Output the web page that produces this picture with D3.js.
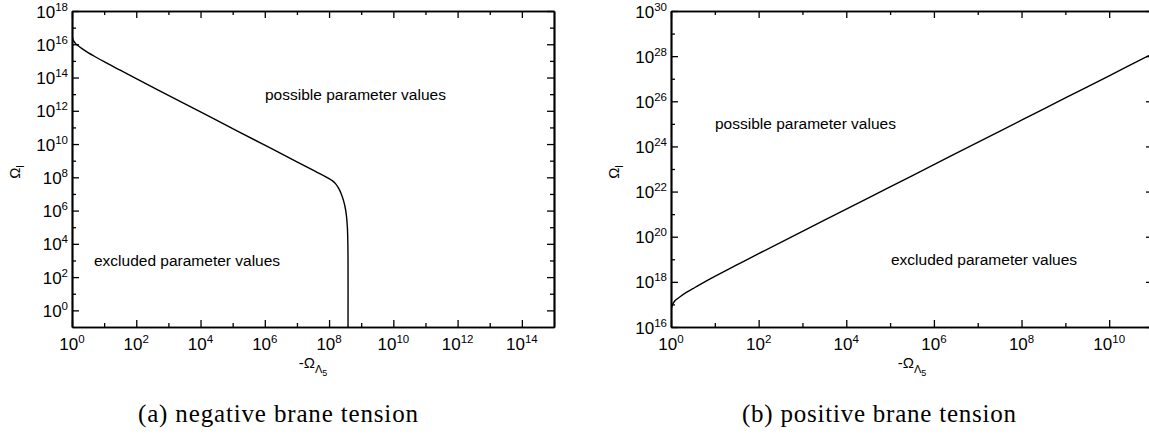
<!DOCTYPE html>
<html>
<head>
<meta charset="utf-8">
<script src="https://cdn.jsdelivr.net/npm/d3@7"></script>
<style>
  html, body { margin: 0; padding: 0; background: #fff; }
  svg { display: block; }
  text { font-family: "Liberation Sans", Arial, Helvetica, sans-serif; fill: #000; }
  .cap { font-family: "Liberation Serif", "Times New Roman", serif; }
</style>
</head>
<body>
<svg id="chart" width="1149" height="435"></svg>
<script>
// ---------- data (exponents of ten) ----------
// (a) negative brane tension: log10(-Omega_Lambda5) vs log10(Omega_l)
const negLogX = [0, 0.02, 0.05, 0.1, 0.16, 0.3, 0.5, 0.75, 1, 1.5, 2, 3, 4, 5, 6, 7, 7.5, 7.8, 8.0, 8.1, 8.2, 8.3, 8.38, 8.45, 8.5, 8.54, 8.57, 8.585, 8.59, 8.59];
const negLogY = [16.6, 16.35, 16.2, 16.07, 15.95, 15.75, 15.5, 15.22, 14.95, 14.44, 13.93, 12.93, 11.93, 10.93, 9.93, 8.93, 8.43, 8.13, 7.92, 7.8, 7.62, 7.33, 7.0, 6.6, 6.2, 5.7, 5.0, 4.0, 3.0, -1];
// (b) positive brane tension
const posLogX = [0, 0.01, 0.03, 0.06, 0.1, 0.2, 0.35, 0.5, 0.66, 1, 1.5, 2, 3, 4, 5, 6, 7, 8, 9, 10, 11];
const posLogY = [16.6, 16.82, 16.97, 17.08, 17.18, 17.33, 17.53, 17.7, 17.88, 18.24, 18.75, 19.25, 20.24, 21.22, 22.21, 23.19, 24.18, 25.16, 26.15, 27.13, 28.12];

// tick labels (exponents)
const xMajorA = [0, 2, 4, 6, 8, 10, 12, 14];
const xMinorA = [1, 3, 5, 7, 9, 11, 13];
const yMajorA = [0, 2, 4, 6, 8, 10, 12, 14, 16, 18];
const yMinorA = [1, 3, 5, 7, 9, 11, 13, 15, 17];
const xMajorB = [0, 2, 4, 6, 8, 10];
const xMinorB = [1, 3, 5, 7, 9, 11];
const yMajorB = [16, 18, 20, 22, 24, 26, 28, 30];
const yMinorB = [17, 19, 21, 23, 25, 27, 29];

const domainA = { x: [0, 15], y: [-1, 18] };
const domainB = { x: [0, 11], y: [16, 30] };

const annotations = ["possible parameter values", "excluded parameter values"];
const captions = ["(a) negative brane tension", "(b) positive brane tension"];

// ---------- drawing ----------
const svg = d3.select("#chart");

function panel(opts) {
  const { left, right, top, bottom, dom, xMaj, xMin, yMaj, yMin, lx, ly, id } = opts;
  const x = d3.scaleLog().domain(dom.x.map(e => 10 ** e)).range([left, right]);
  const y = d3.scaleLog().domain(dom.y.map(e => 10 ** e)).range([bottom, top]);
  const g = svg.append("g");

  const addAxis = (axisFn, scale, vals, size, transform) => {
    const a = g.append("g").attr("transform", transform)
      .call(axisFn(scale).tickValues(vals.map(e => 10 ** e)).tickSize(-size).tickSizeOuter(0).tickFormat(""));
    a.selectAll("line").attr("stroke", "#000").attr("stroke-width", 1.3);
    a.select(".domain").attr("stroke", "#000").attr("stroke-width", 1.7);
    return a;
  };
  addAxis(d3.axisBottom, x, xMin, 4, `translate(0,${bottom})`);
  addAxis(d3.axisBottom, x, xMaj, 7, `translate(0,${bottom})`);
  addAxis(d3.axisTop, x, xMin, 4, `translate(0,${top})`);
  addAxis(d3.axisTop, x, xMaj, 7, `translate(0,${top})`);
  addAxis(d3.axisLeft, y, yMin, 4, `translate(${left},0)`);
  addAxis(d3.axisLeft, y, yMaj, 7, `translate(${left},0)`);
  addAxis(d3.axisRight, y, yMin, 4, `translate(${right},0)`);
  addAxis(d3.axisRight, y, yMaj, 7, `translate(${right},0)`);

  // x tick labels
  const xl = g.append("g").selectAll("text").data(xMaj).join("text")
    .attr("x", d => x(10 ** d)).attr("y", bottom + 23)
    .attr("text-anchor", "middle").attr("font-size", 17);
  xl.append("tspan").text("10");
  xl.append("tspan").attr("font-size", 11.5).attr("dy", -7).text(d => d);

  // y tick labels
  const yl = g.append("g").selectAll("text").data(yMaj).join("text")
    .attr("x", left - 4).attr("y", d => y(10 ** d) + 6.5)
    .attr("text-anchor", "end").attr("font-size", 17);
  yl.append("tspan").text("10");
  yl.append("tspan").attr("font-size", 11.5).attr("dy", -7).text(d => d);

  // curve
  const clipId = "clip" + id;
  svg.append("clipPath").attr("id", clipId).append("rect")
    .attr("x", left).attr("y", top).attr("width", right - left).attr("height", bottom - top);
  const pts = lx.map((e, i) => [10 ** e, 10 ** ly[i]]);
  g.append("path").datum(pts)
    .attr("clip-path", `url(#${clipId})`)
    .attr("fill", "none").attr("stroke", "#000").attr("stroke-width", 1.4)
    .attr("stroke-linejoin", "round")
    .attr("d", d3.line().x(d => x(d[0])).y(d => y(d[1])).curve(d3.curveCatmullRom.alpha(0.5)));

  // y axis title  Ω_l
  const yt = g.append("text")
    .attr("transform", `translate(${opts.yTitleX},172) rotate(-90)`)
    .attr("text-anchor", "middle").attr("font-size", 15);
  yt.append("tspan").text("Ω");
  yt.append("tspan").attr("font-size", 11).attr("dy", 4).text("l");

  // x axis title  -Ω_{Λ_5}
  const xt = g.append("text")
    .attr("x", (left + right) / 2).attr("y", bottom + 41)
    .attr("text-anchor", "middle").attr("font-size", 15);
  xt.append("tspan").text("-Ω");
  xt.append("tspan").attr("font-size", 11).attr("dy", 5).text("Λ");
  xt.append("tspan").attr("font-size", 9).attr("dy", 3).text("5");

  return { g, x, y };
}

panel({ id: "A", left: 72, right: 554, top: 11, bottom: 327, dom: domainA,
  xMaj: xMajorA, xMin: xMinorA, yMaj: yMajorA, yMin: yMinorA, lx: negLogX, ly: negLogY, yTitleX: 20 });
panel({ id: "B", left: 671, right: 1153, top: 11, bottom: 327, dom: domainB,
  xMaj: xMajorB, xMin: xMinorB, yMaj: yMajorB, yMin: yMinorB, lx: posLogX, ly: posLogY, yTitleX: 619 });

// region annotations
const ann = [
  { t: annotations[0], x: 265, y: 100 },
  { t: annotations[1], x: 94, y: 266 },
  { t: annotations[0], x: 715, y: 129 },
  { t: annotations[1], x: 891, y: 265 }
];
svg.append("g").selectAll("text").data(ann).join("text")
  .attr("x", d => d.x).attr("y", d => d.y).attr("font-size", 15.5).text(d => d.t);

// captions
const caps = [{ t: captions[0], cx: 278, w: 280 }, { t: captions[1], cx: 879, w: 274 }];
svg.append("g").selectAll("text").data(caps).join("text")
  .attr("class", "cap")
  .attr("x", d => d.cx - d.w / 2).attr("y", 422)
  .attr("font-size", 25)
  .attr("textLength", d => d.w).attr("lengthAdjust", "spacing")
  .text(d => d.t);
</script>
</body>
</html>
